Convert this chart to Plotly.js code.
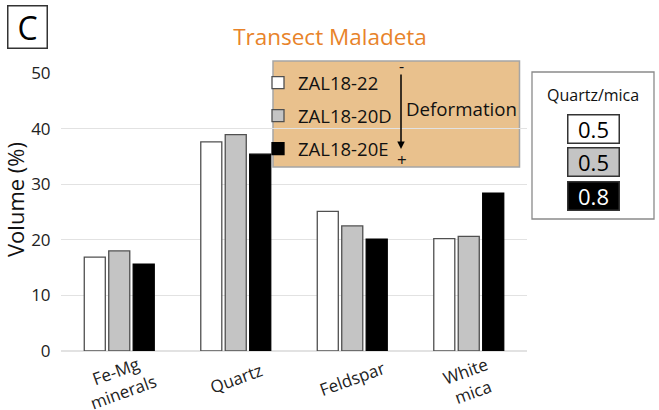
<!DOCTYPE html>
<html>
<head>
<meta charset="utf-8">
<script src="https://cdn.plot.ly/plotly-3.0.1.min.js"></script>
<style>html,body{margin:0;padding:0;background:#fff}#chart{width:659px;height:410px}</style>
</head>
<body>
<div id="chart"></div>
<script>
// ---- data ----
const categories = ["Fe-Mg<br>minerals", "Quartz", "Feldspar", "White<br>mica"];
const seriesNames = ["ZAL18-22", "ZAL18-20D", "ZAL18-20E"];
const valsZAL18_22  = [16.9, 37.6, 25.1, 20.2];
const valsZAL18_20D = [18.0, 38.9, 22.5, 20.6];
const valsZAL18_20E = [15.6, 35.4, 20.1, 28.4];
const quartzMicaRatios = ["0.5", "0.5", "0.8"];
const yTicks = [0, 10, 20, 30, 40, 50];

// ---- styling ----
const seriesValues = [valsZAL18_22, valsZAL18_20D, valsZAL18_20E];
const fills = ["#ffffff", "#c4c4c4", "#000000"];
const outlines = ["#505050", "#505050", "#000000"];
const legendIds = ["legend", "legend2", "legend3"];
const FONT = "Open Sans, Noto Sans, sans-serif";

// geometry helpers (pixel -> paper) for plot area l=61, r=527, t=73, b=351
const L = 61, R = 527, T = 73, B = 351;
const px = x => (x - L) / (R - L);
const py = y => (B - y) / (B - T);

const traces = seriesNames.map((name, i) => ({
  type: "bar",
  name: name,
  x: categories,
  y: seriesValues[i],
  marker: {color: fills[i], line: {color: outlines[i], width: 1.3}},
  legend: legendIds[i],
  showlegend: true,
  hoverinfo: "skip"
}));

const legendY = [83, 116, 149];
const legendCommon = {
  bgcolor: "rgba(0,0,0,0)", borderwidth: 0,
  font: {family: FONT, size: 18.5, color: "#111"},
  xanchor: "left", yanchor: "middle", xref: "paper", yref: "paper",
  itemclick: false, itemdoubleclick: false
};
function ann(text, x, y, size, extra) {
  return Object.assign({text: text, xref: "paper", yref: "paper", x: px(x), y: py(y), showarrow: false,
    xanchor: "center", yanchor: "middle", font: {family: FONT, size: size, color: "#111"}}, extra || {});
}
const layout = {
  width: 659, height: 410, showlegend: true,
  paper_bgcolor: "#ffffff", plot_bgcolor: "rgba(0,0,0,0)",
  margin: {l: L, r: 659 - R, t: T, b: 410 - B, pad: 0},
  font: {family: FONT, color: "#222"},
  title: {text: "Transect Maladeta", font: {family: FONT, size: 22.5, color: "#e8832a"},
          x: 330 / 659, xanchor: "center", xref: "container", y: 1 - 37 / 410, yref: "container", yanchor: "middle"},
  barmode: "group", bargap: 0.37, bargroupgap: 0.14,
  xaxis: {
    showticklabels: false, showgrid: false, showline: false, ticks: "", zeroline: false
  },
  yaxis: {
    range: [0, 50], tickvals: yTicks, ticktext: yTicks.map(String),
    tickfont: {family: FONT, size: 17, color: "#222"},
    gridcolor: "#e2e2e2", gridwidth: 1.2, zeroline: true, zerolinecolor: "#e2e2e2", zerolinewidth: 1.2,
    showline: false, ticks: "outside", ticklen: 6, tickcolor: "rgba(0,0,0,0)"
  },
  legend:  Object.assign({}, legendCommon, {x: px(258), y: py(legendY[0])}),
  legend2: Object.assign({}, legendCommon, {x: px(258), y: py(legendY[1])}),
  legend3: Object.assign({}, legendCommon, {x: px(258), y: py(legendY[2])}),
  shapes: [
    {type: "rect", xref: "paper", yref: "paper", layer: "below",
     x0: px(273), x1: px(519.5), y0: py(167), y1: py(61),
     fillcolor: "#e9c18d", line: {color: "#a5a5a5", width: 1.5}},
    {type: "rect", xref: "paper", yref: "paper", layer: "below",
     x0: px(532), x1: px(654), y0: py(219), y1: py(72),
     fillcolor: "#ffffff", line: {color: "#8a8a8a", width: 1.3}}
  ],
  annotations: [
    ann("C", 27.5, 27.5, 32, {font: {family: FONT, size: 32, color: "#000"}, bordercolor: "#333", borderwidth: 1.5, width: 36, height: 39}),
    ann("Volume (%)", 15, 200, 22, {textangle: -90}),
    {text: "", xref: "paper", yref: "paper", x: px(401), y: py(149), ax: 0, ay: -76,
     showarrow: true, arrowhead: 2, arrowsize: 1, arrowwidth: 1.5, arrowcolor: "#000", standoff: 0, startstandoff: 0},
    ann("-", 401, 66, 16),
    ann("+", 402, 159, 17),
    ann("Deformation", 461, 108, 18.7),
    ann("Quartz/mica", 593, 95, 16)
  ]
};

// category labels below the axis (rotated, centred on each group)
categories.forEach(c => {
  const twoLine = c.indexOf("<br>") >= 0;
  layout.annotations.push({
    text: c, xref: "x", yref: "y", x: c, y: 0, yshift: twoLine ? -30 : -27,
    showarrow: false, xanchor: "center", yanchor: "middle", align: "center", textangle: -20,
    font: {family: FONT, size: 17, color: "#222"}
  });
});

const boxY = [128.5, 161.5, 195.5];
quartzMicaRatios.forEach((r, i) => {
  layout.annotations.push(ann(r, 593, boxY[i], 22, {
    font: {family: FONT, size: 22, color: i === 2 ? "#fff" : "#000"},
    bgcolor: fills[i], bordercolor: "#333", borderwidth: 1.5, width: 48, height: 25
  }));
});

Plotly.newPlot("chart", traces, layout, {displayModeBar: false, staticPlot: true});
</script>
</body>
</html>
